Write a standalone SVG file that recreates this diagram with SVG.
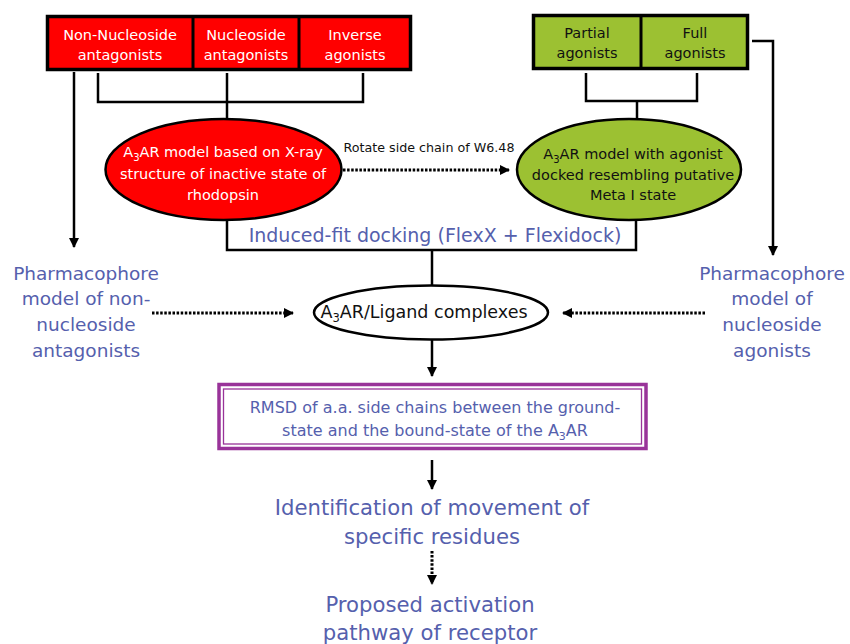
<svg xmlns="http://www.w3.org/2000/svg" width="850" height="644" viewBox="0 0 850 644">
<defs>
<marker id="ah" markerWidth="10" markerHeight="10" refX="9" refY="5" orient="auto" markerUnits="userSpaceOnUse">
<path d="M0,0 L10,5 L0,10 Z" fill="#000"/>
</marker>
<style>
text{font-family:"DejaVu Sans",Verdana,sans-serif;text-anchor:middle}
.w{fill:#fff;font-size:14.5px}
.k{fill:#111;font-size:14.5px}
.b{fill:#5560ad}
.ln{fill:none;stroke:#000;stroke-width:2.5}
.dot{fill:none;stroke:#000;stroke-width:3;stroke-dasharray:2.5 1.6}
</style>
</defs>
<rect width="850" height="644" fill="#fff"/>

<g id="connectors">
<path class="ln" d="M74,72 V247" marker-end="url(#ah)"/>
<path class="ln" d="M98,73 V102 H363 V73"/>
<path class="ln" d="M227,73 V119"/>
<path class="ln" d="M586,73 V101 H697 V73"/>
<path class="ln" d="M637,101 V119"/>
<path class="ln" d="M752,41 H773 V255" marker-end="url(#ah)"/>
<path class="dot" d="M343,170 H509" marker-end="url(#ah)"/>
<path class="ln" d="M227,220 V250 H636 V220"/>
<path class="ln" d="M432,250 V285"/>
<path class="dot" d="M152,313 H293" marker-end="url(#ah)"/>
<path class="dot" d="M705,313 H563" marker-end="url(#ah)"/>
<path class="ln" d="M432,340 V376" marker-end="url(#ah)"/>
<path class="ln" d="M432,460 V489" marker-end="url(#ah)"/>
<path class="dot" d="M432,551 V584" marker-end="url(#ah)"/>
</g>
<text x="429" y="152" style="font-size:12.7px;fill:#111">Rotate side chain of W6.48</text>

<g id="red-boxes">
<rect x="47.5" y="16.5" width="363" height="53" fill="#ff0000" stroke="#000" stroke-width="3.5"/>
<line x1="193" y1="16" x2="193" y2="70" stroke="#000" stroke-width="3"/>
<line x1="299" y1="16" x2="299" y2="70" stroke="#000" stroke-width="3"/>
<text class="w" x="120" y="40">Non-Nucleoside</text>
<text class="w" x="120" y="60">antagonists</text>
<text class="w" x="246" y="40">Nucleoside</text>
<text class="w" x="246" y="60">antagonists</text>
<text class="w" x="355" y="40">Inverse</text>
<text class="w" x="355" y="60">agonists</text>
</g>

<g id="green-boxes">
<rect x="533.5" y="15.5" width="214" height="53" fill="#9cc132" stroke="#000" stroke-width="3.5"/>
<line x1="641" y1="15" x2="641" y2="69" stroke="#000" stroke-width="3"/>
<text class="k" x="587" y="38">Partial</text>
<text class="k" x="587" y="58">agonists</text>
<text class="k" x="695" y="38">Full</text>
<text class="k" x="695" y="58">agonists</text>
</g>

<g id="red-ellipse">
<ellipse cx="223.5" cy="169.5" rx="118" ry="50.5" fill="#ff0000" stroke="#000" stroke-width="2.5"/>
<text class="w" x="223" y="157">A<tspan font-size="10" dy="4">3</tspan><tspan dy="-4">AR model based on X-ray</tspan></text>
<text class="w" x="223" y="179">structure of inactive state of</text>
<text class="w" x="223" y="200">rhodopsin</text>
</g>

<g id="green-ellipse">
<ellipse cx="629" cy="169.5" rx="112" ry="50.5" fill="#9cc132" stroke="#000" stroke-width="2.5"/>
<text class="k" x="633" y="159">A<tspan font-size="10" dy="4">3</tspan><tspan dy="-4">AR model with agonist</tspan></text>
<text class="k" x="633" y="180">docked resembling putative</text>
<text class="k" x="633" y="200">Meta I state</text>
</g>

<g id="induced-fit">
<text class="b" x="435" y="242" style="font-size:19px">Induced-fit docking (FlexX + Flexidock)</text>
</g>

<g id="pharm-left">
<text class="b" x="86" y="280" style="font-size:18.5px">Pharmacophore</text>
<text class="b" x="86" y="305" style="font-size:18.5px">model of non-</text>
<text class="b" x="86" y="331" style="font-size:18.5px">nucleoside</text>
<text class="b" x="86" y="357" style="font-size:18.5px">antagonists</text>
</g>

<g id="pharm-right">
<text class="b" x="772" y="280" style="font-size:18.5px">Pharmacophore</text>
<text class="b" x="772" y="305" style="font-size:18.5px">model of</text>
<text class="b" x="772" y="331" style="font-size:18.5px">nucleoside</text>
<text class="b" x="772" y="357" style="font-size:18.5px">agonists</text>
</g>

<g id="ligand">
<ellipse cx="431" cy="312.5" rx="117" ry="27" fill="#fff" stroke="#000" stroke-width="2.5"/>
<text x="424" y="318" style="font-size:17.5px;fill:#111">A<tspan font-size="11.5" dy="4">3</tspan><tspan dy="-4">AR/Ligand complexes</tspan></text>
</g>

<g id="rmsd">
<rect x="219" y="384.5" width="427" height="64" fill="#fff" stroke="#993399" stroke-width="3.5"/>
<rect x="223.5" y="389" width="418" height="55" fill="none" stroke="#993399" stroke-width="1.3"/>
<text class="b" x="435" y="413" style="font-size:16px">RMSD of a.a. side chains between the ground-</text>
<text class="b" x="435" y="436" style="font-size:16px">state and the bound-state of the A<tspan font-size="11" dy="4">3</tspan><tspan dy="-4">AR</tspan></text>
</g>

<g id="identification">
<text class="b" x="432" y="515" style="font-size:21.2px">Identification of movement of</text>
<text class="b" x="432" y="544" style="font-size:21.2px">specific residues</text>
</g>

<g id="proposed">
<text class="b" x="430" y="612" style="font-size:21.2px">Proposed activation</text>
<text class="b" x="430" y="640" style="font-size:21.2px">pathway of receptor</text>
</g>
</svg>
